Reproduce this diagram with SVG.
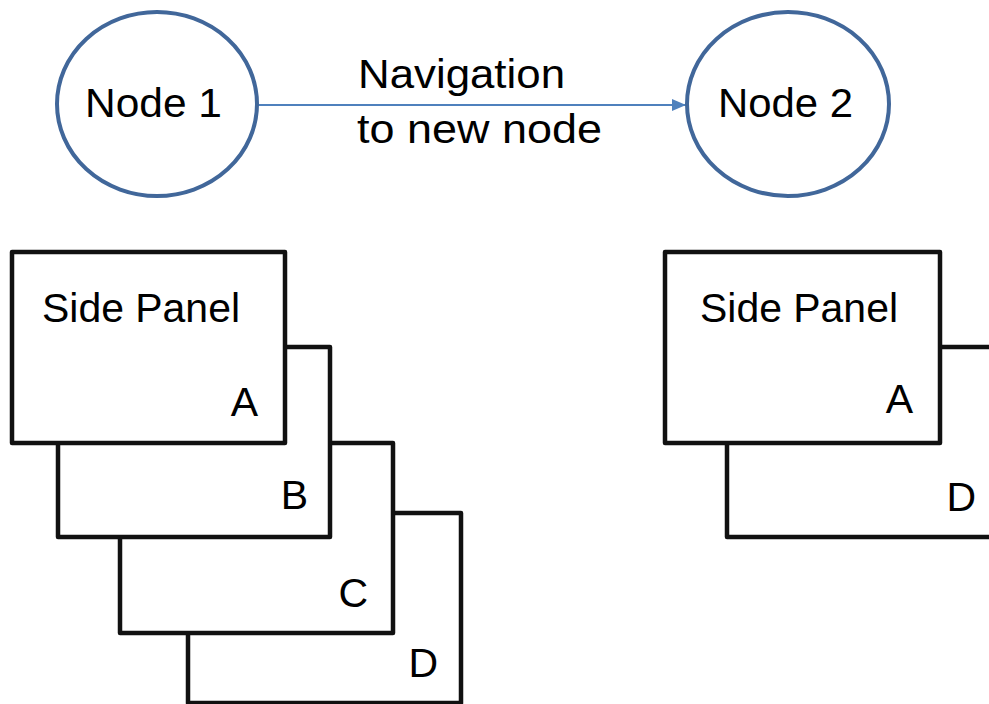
<svg xmlns="http://www.w3.org/2000/svg" width="989" height="704" viewBox="0 0 989 704">
<style>
.lbl{font-family:"Liberation Sans",Arial,sans-serif;font-size:41px;fill:#000}
.node{fill:#fff;stroke:#41679a;stroke-width:4}
.panel{fill:#fff;stroke:#111;stroke-width:4.5;stroke-linejoin:round}
.edge{stroke:#4f81bd;stroke-width:1.8;fill:none}
</style>
<defs>
<marker id="arrow" viewBox="0 0 14 14" refX="14" refY="7" markerWidth="14" markerHeight="14" markerUnits="userSpaceOnUse" orient="auto">
<path d="M0,1 L14,7 L0,13 z" fill="#4f81bd"/>
</marker>
</defs>
<rect width="989" height="704" fill="#fff"/>
<g id="connectors">
<line class="edge" x1="258" y1="105" x2="686" y2="105" marker-end="url(#arrow)"/>
<text class="lbl" x="358" y="88" textLength="207" lengthAdjust="spacingAndGlyphs">Navigation</text>
<text class="lbl" x="357" y="143" textLength="245" lengthAdjust="spacingAndGlyphs">to new node</text>
</g>
<g id="node1">
<ellipse class="node" cx="157" cy="104" rx="100" ry="92"/>
<text class="lbl" x="85" y="117" textLength="137" lengthAdjust="spacingAndGlyphs">Node 1</text>
</g>
<g id="node2">
<ellipse class="node" cx="788" cy="104" rx="101" ry="92"/>
<text class="lbl" x="718" y="117" textLength="135" lengthAdjust="spacingAndGlyphs">Node 2</text>
</g>
<g id="left-panel-D">
<rect class="panel" x="188" y="513" width="273" height="190"/>
<text class="lbl" x="438" y="677" text-anchor="end">D</text>
</g>
<g id="left-panel-C">
<rect class="panel" x="120" y="443" width="273" height="190"/>
<text class="lbl" x="368" y="607" text-anchor="end">C</text>
</g>
<g id="left-panel-B">
<rect class="panel" x="58" y="347" width="272" height="190"/>
<text class="lbl" x="308" y="509" text-anchor="end">B</text>
</g>
<g id="left-panel-A">
<rect class="panel" x="12" y="252" width="273" height="191"/>
<text class="lbl" x="42" y="322" textLength="198" lengthAdjust="spacingAndGlyphs">Side Panel</text>
<text class="lbl" x="258" y="416" text-anchor="end">A</text>
</g>
<g id="right-panel-D">
<rect class="panel" x="727" y="347" width="272" height="190"/>
<text class="lbl" x="976" y="511" text-anchor="end">D</text>
</g>
<g id="right-panel-A">
<rect class="panel" x="665" y="252" width="275" height="191"/>
<text class="lbl" x="700" y="322" textLength="198" lengthAdjust="spacingAndGlyphs">Side Panel</text>
<text class="lbl" x="913" y="413" text-anchor="end">A</text>
</g>
</svg>
